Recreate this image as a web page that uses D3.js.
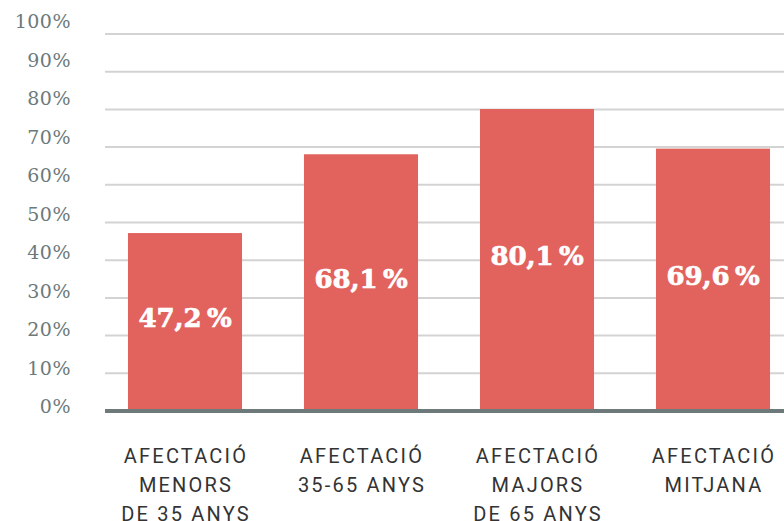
<!DOCTYPE html>
<html>
<head>
<meta charset="utf-8">
<title>afectació</title>
<script src="https://cdn.jsdelivr.net/npm/d3@7"></script>
<style>
    body{
        margin:0;
        background:#fff;
    }
    .ylab{
        font-family:"DejaVu Serif", serif;
        font-size:19px;
        letter-spacing:0.5px;
        fill:#6b7a7a;
    }
    .xlab{
        font-family:Roboto, sans-serif;
        font-size:20px;
        letter-spacing:2.2px;
        fill:#333;
    }
    .val{
        font-family:"DejaVu Serif", serif;
        font-weight:bold;
        font-size:26px;
        fill:#fff;
        stroke:#fff;
        stroke-width:0.7px;
    }
</style>
</head>
<body>
<div id="chart"></div>
<script>

    var categories = [
        ["AFECTACIÓ","MENORS","DE 35 ANYS"],
        ["AFECTACIÓ","35-65 ANYS"],
        ["AFECTACIÓ","MAJORS","DE 65 ANYS"],
        ["AFECTACIÓ","MITJANA"]
    ]
    var values = [47.2, 68.1, 80.1, 69.6]
    var valueLabels = ["47,2\u2009%", "68,1\u2009%", "80,1\u2009%", "69,6\u2009%"]
    var yTicks = [0,10,20,30,40,50,60,70,80,90,100]

    var width = 784
    var height = 521

    var svg = d3.select("#chart").append("svg")
        .attr("width",width)
        .attr("height",height)

    var x = d3.scaleBand()
        .domain(d3.range(values.length))
        .range([97, 801])
        .paddingInner(0.352)
        .paddingOuter(0.176)

    var y = d3.scaleLinear()
        .domain([0,100])
        .range([411, 34])

    // tick labels drift a little from the grid in the original
    var yLab = d3.scaleLinear()
        .domain([0,100])
        .range([413, 28])

    // grid
    svg.selectAll(".grid")
        .data(yTicks.filter(function(d){ return d > 0 }))
        .enter().append("line")
        .attr("x1",105)
        .attr("x2",width)
        .attr("y1",function(d){ return y(d) })
        .attr("y2",function(d){ return y(d) })
        .attr("stroke","#d3d3d3")
        .attr("stroke-width",2)

    svg.selectAll(".ylab")
        .data(yTicks)
        .enter().append("text")
        .attr("class","ylab")
        .attr("x",71)
        .attr("y",function(d){ return yLab(d) })
        .attr("text-anchor","end")
        .text(function(d){ return d + "%" })

    // bars
    svg.selectAll(".bar")
        .data(values)
        .enter().append("rect")
        .attr("x",function(d,i){ return x(i) })
        .attr("width",x.bandwidth())
        .attr("y",function(d){ return y(d) })
        .attr("height",function(d){ return y(0) - y(d) })
        .attr("fill","#e2635d")

    svg.selectAll(".val")
        .data(values)
        .enter().append("text")
        .attr("class","val")
        .attr("x",function(d,i){ return x(i) + x.bandwidth()/2 })
        .attr("y",function(d){ return (y(d) + y(0))/2 + 5 })
        .attr("text-anchor","middle")
        .text(function(d,i){ return valueLabels[i] })

    // baseline
    svg.append("line")
        .attr("x1",105)
        .attr("x2",width)
        .attr("y1",y(0))
        .attr("y2",y(0))
        .attr("stroke","#6e7a7a")
        .attr("stroke-width",4)

    // category labels
    var xl = svg.selectAll(".xlab")
        .data(categories)
        .enter().append("text")
        .attr("class","xlab")
        .attr("text-anchor","middle")
        .attr("transform",function(d,i){ return "translate(" + (x(i) + x.bandwidth()/2 + 1) + ",463)" })

    xl.selectAll("tspan")
        .data(function(d){ return d })
        .enter().append("tspan")
        .attr("x",0)
        .attr("y",function(d,i){ return i*29 })
        .text(function(d){ return d })

</script>
</body>
</html>
